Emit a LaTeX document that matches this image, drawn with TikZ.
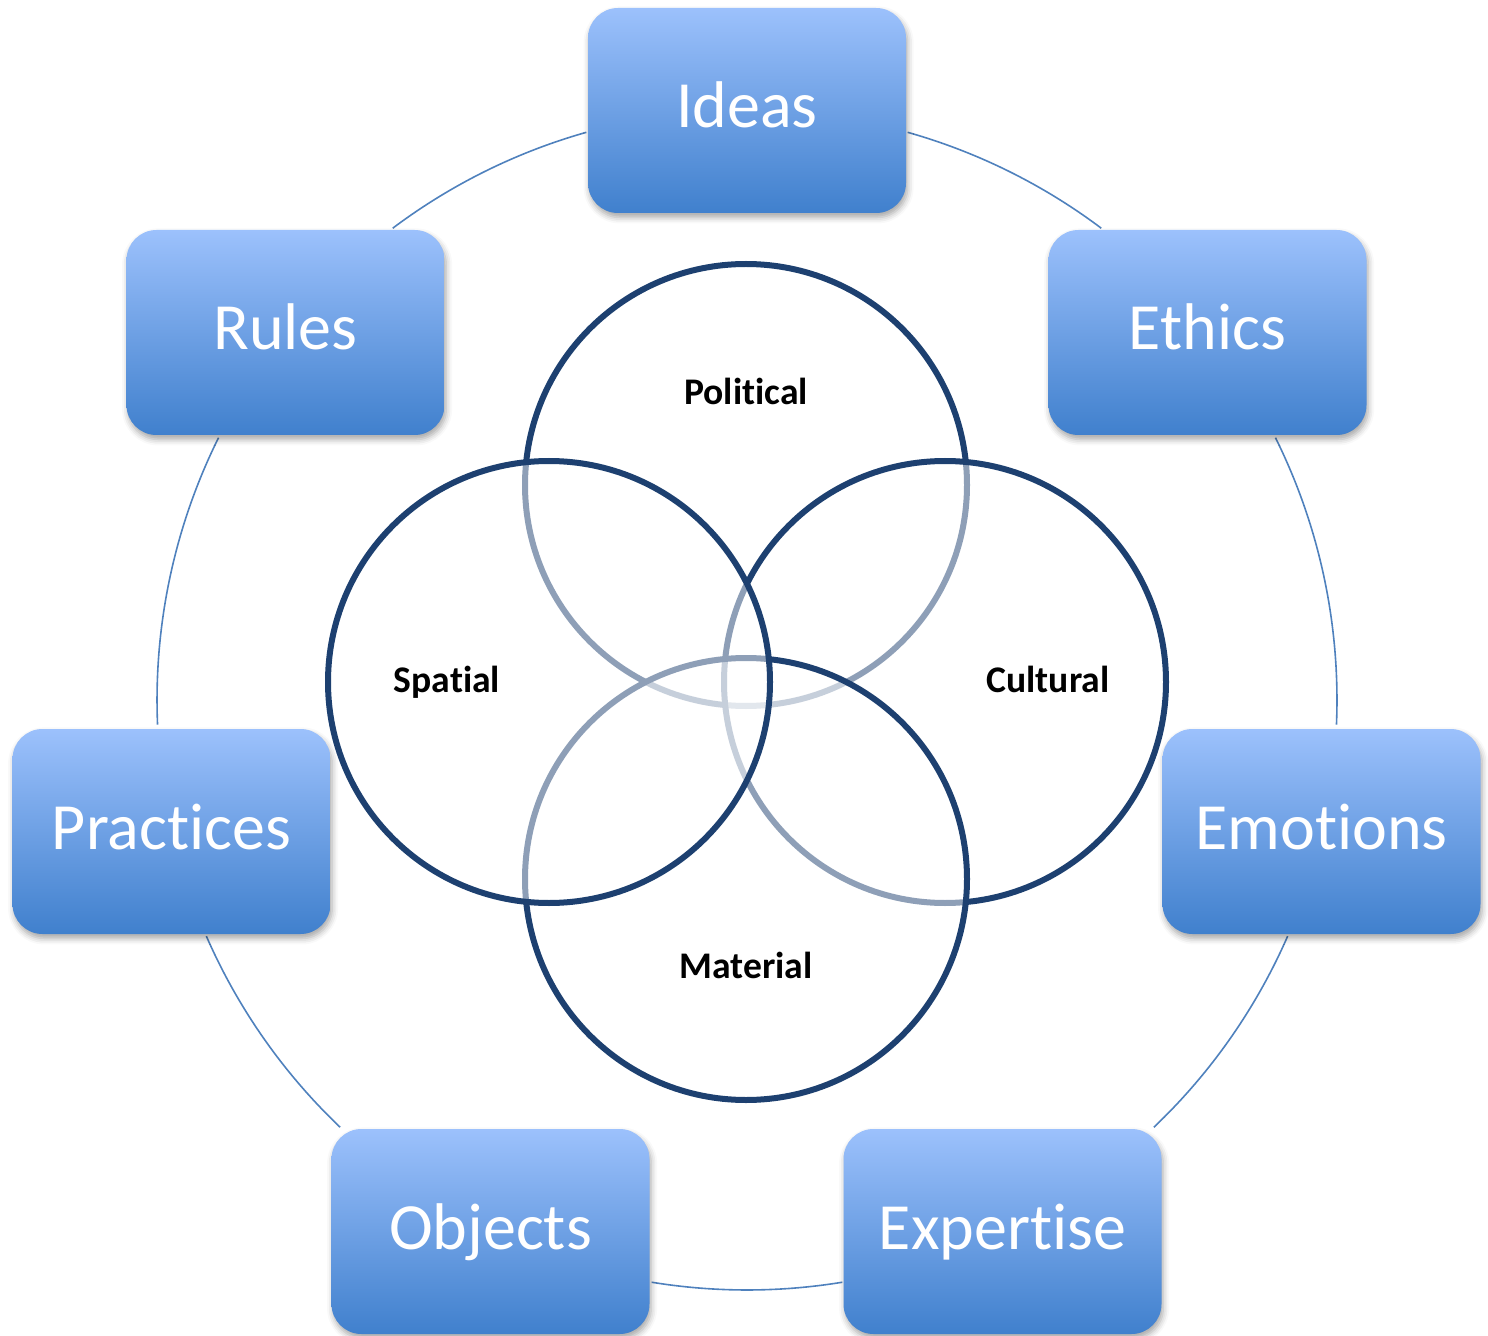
\documentclass[tikz,border=0pt]{standalone}
\usepackage{fontspec}
\setmainfont{Carlito}[Ligatures={NoCommon,NoContextual,NoRare}]
\usetikzlibrary{shadows.blur}
\definecolor{boxtop}{RGB}{156,193,252}
\definecolor{boxbot}{RGB}{64,128,205}
\definecolor{ringline}{RGB}{79,129,189}
\definecolor{vennline}{RGB}{29,64,112}
\begin{document}
\begin{tikzpicture}[x=0.5pt,y=-0.5pt,
  topic/.style={rectangle, rounded corners=15pt,
    minimum width=159pt, minimum height=102.5pt,
    top color=boxtop, bottom color=boxbot,
    blur shadow={shadow xshift=0.8pt, shadow yshift=-2.2pt,
      shadow opacity=35, shadow blur radius=3pt},
    text=white, font=\fontsize{33}{40}\selectfont,
    text height=17.5pt, text depth=0pt, inner sep=0pt},
  ringarc/.style={draw=ringline, line width=0.8pt},
  vennring/.style={circle, draw=vennline, line width=3pt,
    fill=white, fill opacity=0.5, minimum size=221pt, inner sep=0pt},
  vlabel/.style={font=\bfseries\fontsize{18.8}{22}\selectfont,
    text=black, anchor=base, inner sep=0pt}]
\useasboundingbox (0,0) rectangle (1488,1336);

% outer ring, split into arcs between the topic boxes
\coordinate (hub) at (747,700);
\draw[ringarc] ([shift={(-126.9:590)}]hub) arc[start angle=-126.9, end angle=-105.8, radius=590];
\draw[ringarc] ([shift={(-74.2:590)}]hub) arc[start angle=-74.2, end angle=-53.1, radius=590];
\draw[ringarc] ([shift={(-26.4:590)}]hub) arc[start angle=-26.4, end angle=2.4, radius=590];
\draw[ringarc] ([shift={(23.6:590)}]hub) arc[start angle=23.6, end angle=46.4, radius=590];
\draw[ringarc] ([shift={(80.7:590)}]hub) arc[start angle=80.7, end angle=99.3, radius=590];
\draw[ringarc] ([shift={(133.6:590)}]hub) arc[start angle=133.6, end angle=156.4, radius=590];
\draw[ringarc] ([shift={(177.6:590)}]hub) arc[start angle=177.6, end angle=206.4, radius=590];

% topic boxes
\node[topic] (ideas)     at (747,110.5)  {Ideas};
\node[topic] (rules)     at (285.5,332.5) {Rules};
\node[topic] (ethics)    at (1207.5,332.5) {Ethics};
\node[topic] (practices) at (171.5,831.5) {Practices};
\node[topic] (emotions)  at (1321.5,831.5) {Emotions};
\node[topic] (objects)   at (490.5,1231.5) {Objects};
\node[topic] (expertise) at (1002.5,1231.5) {Expertise};

% overlapping circles, each lightening the outlines beneath it
\node[vennring] (political) at (746,485) {};
\node[vennring] (cultural)  at (945,682) {};
\node[vennring] (material)  at (746,879) {};
\node[vennring] (spatial)   at (549,682) {};

% circle labels
\node[vlabel] (lpolitical) at (746,405) {Political};
\node[vlabel] (lspatial)   at (447,692) {Spatial};
\node[vlabel] (lcultural)  at (1048,692) {Cultural};
\node[vlabel] (lmaterial)  at (746,978) {Material};
\end{tikzpicture}
\end{document}
